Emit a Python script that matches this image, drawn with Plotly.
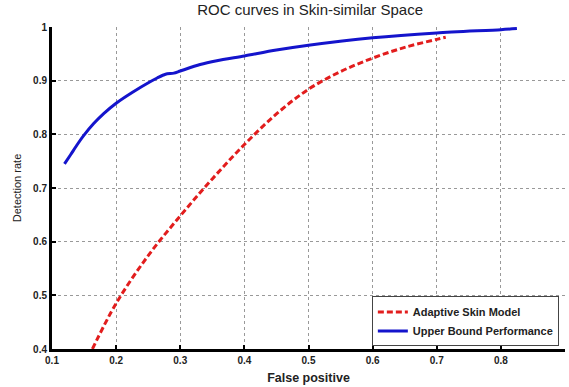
import plotly.graph_objects as go

# Upper Bound Performance (blue)
blue_x = [0.1195, 0.129, 0.14, 0.149, 0.165, 0.181, 0.2, 0.225, 0.253, 0.264, 0.277, 0.29, 0.3, 0.331, 0.357, 0.4, 0.45, 0.5, 0.6, 0.7, 0.8, 0.825]
blue_y = [0.745, 0.762, 0.782, 0.797, 0.820, 0.839, 0.858, 0.878, 0.898, 0.905, 0.912, 0.914, 0.918, 0.930, 0.937, 0.946, 0.957, 0.966, 0.980, 0.989, 0.995, 0.997]

# Adaptive Skin Model (red)
red_x = [0.163, 0.2, 0.25, 0.3, 0.35, 0.4, 0.45, 0.5, 0.55, 0.6, 0.65, 0.7, 0.714]
red_y = [0.4, 0.485, 0.574, 0.648, 0.717, 0.781, 0.838, 0.884, 0.917, 0.942, 0.962, 0.977, 0.981]

x_ticks = [0.1, 0.2, 0.3, 0.4, 0.5, 0.6, 0.7, 0.8, 0.9]
y_ticks = [0.4, 0.5, 0.6, 0.7, 0.8, 0.9, 1.0]
y_tick_text = ["0.4", "0.5", "0.6", "0.7", "0.8", "0.9", "1"]

FONT = "Liberation Sans, Arial"

fig = go.Figure()
fig.add_trace(go.Scatter(x=red_x, y=red_y, mode="lines", name="Adaptive Skin Model",
                         line=dict(color="#e21d1d", width=3, dash="6px,3px", shape="spline", smoothing=1)))
fig.add_trace(go.Scatter(x=blue_x, y=blue_y, mode="lines", name="Upper Bound Performance",
                         line=dict(color="#1414cc", width=3, shape="spline", smoothing=0.8)))

tickfont = dict(family=FONT, size=10, color="#222", weight="bold")
fig.update_layout(
    width=569, height=387,
    margin=dict(l=52, r=4, t=27, b=38),
    paper_bgcolor="white", plot_bgcolor="white",
    title=dict(text="ROC curves in Skin-similar Space", x=0.545, xanchor="center", y=0.988, yanchor="top",
               font=dict(family=FONT, size=15, color="#222")),
    showlegend=True,
    legend=dict(x=0.988, y=0.008, xanchor="right", yanchor="bottom",
                bgcolor="white", bordercolor="#444", borderwidth=1,
                font=dict(family=FONT, size=11, color="#222", weight="bold"),
                tracegroupgap=0, itemwidth=30),
    xaxis=dict(range=[0.1, 0.9], tickvals=x_ticks, ticktext=[f"{v:g}" for v in x_ticks],
               showgrid=True, gridcolor="#999", griddash="dot", gridwidth=1,
               showline=True, linecolor="black", linewidth=3, mirror=False,
               ticks="inside", ticklen=4, tickwidth=2, tickcolor="black",
               tickfont=tickfont, zeroline=False,
               title=dict(text="False positive", standoff=9,
                          font=dict(family=FONT, size=12.5, color="#222", weight="bold"))),
    yaxis=dict(range=[0.4, 1.0], tickvals=y_ticks, ticktext=y_tick_text,
               showgrid=True, gridcolor="#999", griddash="dot", gridwidth=1,
               showline=True, linecolor="black", linewidth=3, mirror=False,
               ticks="inside", ticklen=4, tickwidth=2, tickcolor="black",
               tickfont=tickfont, zeroline=False,
               title=dict(text="Detection rate", standoff=10,
                          font=dict(family=FONT, size=11, color="#222"))),
)

fig.write_html("out.html")
